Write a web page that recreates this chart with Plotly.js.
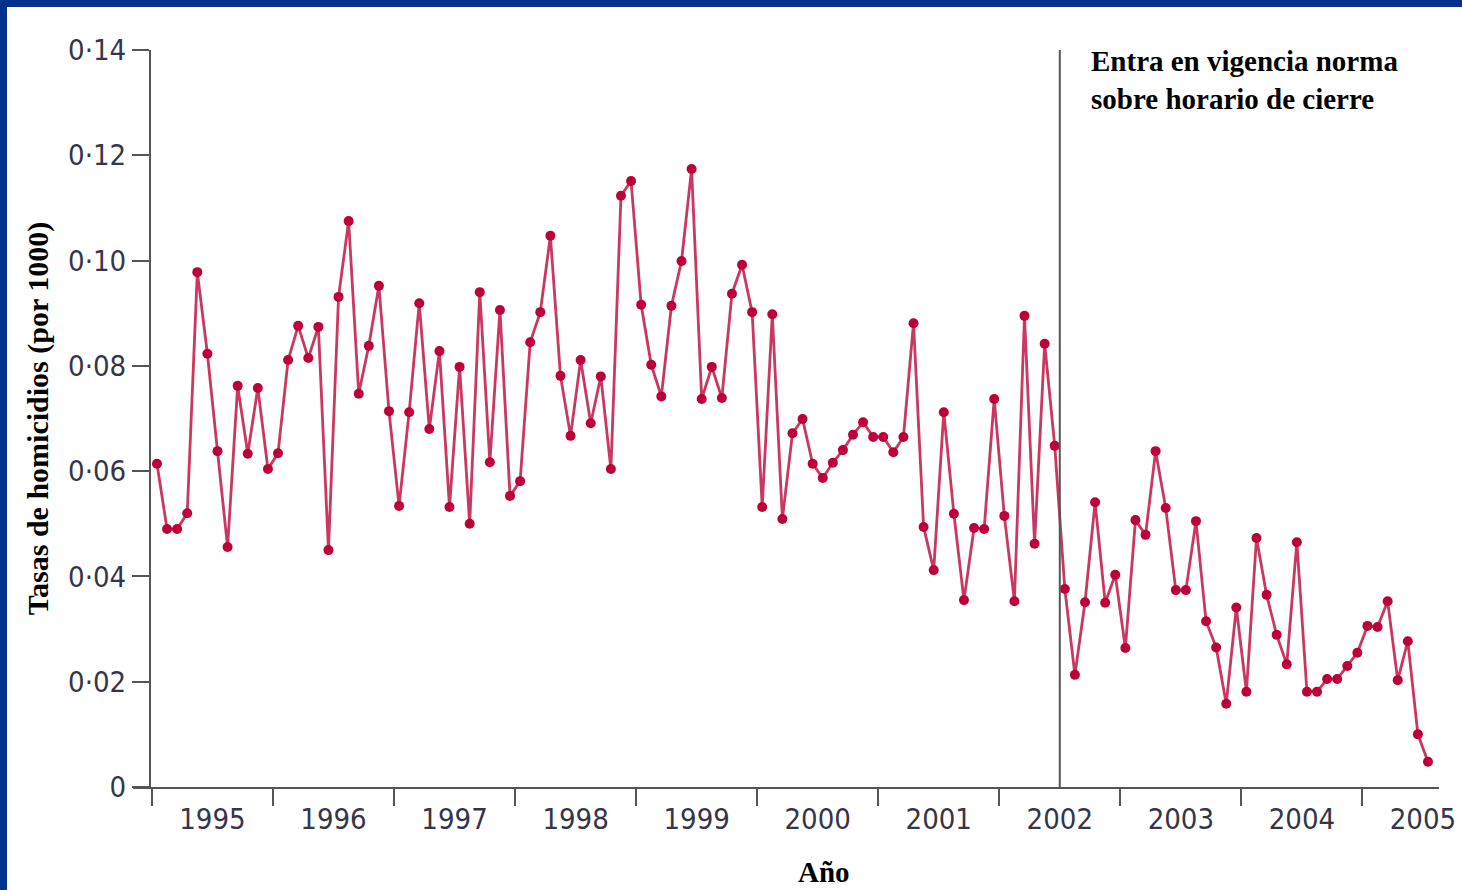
<!DOCTYPE html>
<html>
<head>
<meta charset="utf-8">
<script src="https://cdn.plot.ly/plotly-3.0.1.min.js"></script>
<style>
  html, body { margin: 0; padding: 0; background: #ffffff; }
  #chart { position: absolute; left: 0; top: 0; width: 1462px; height: 890px; }
  .frame-top { position: absolute; left: 0; top: 0; width: 1462px; height: 7px; background: #03308a; }
  .frame-left { position: absolute; left: 0; top: 0; width: 7px; height: 890px; background: #03308a; }
</style>
</head>
<body>
<div id="chart"></div>
<div class="frame-top"></div>
<div class="frame-left"></div>
<script>
// ---- Data (monthly homicide rates per 1000, Jan 1995 - Jul 2005) ----
const startYear = 1995;
const years = [1995, 1996, 1997, 1998, 1999, 2000, 2001, 2002, 2003, 2004, 2005];
const rates1995 = [0.0614, 0.0490, 0.0490, 0.0520, 0.0978, 0.0823, 0.0638, 0.0456, 0.0762, 0.0633, 0.0758, 0.0604];
const rates1996 = [0.0634, 0.0811, 0.0876, 0.0815, 0.0874, 0.0450, 0.0931, 0.1075, 0.0747, 0.0838, 0.0952, 0.0714];
const rates1997 = [0.0534, 0.0712, 0.0919, 0.0680, 0.0828, 0.0532, 0.0798, 0.0500, 0.0940, 0.0617, 0.0906, 0.0553];
const rates1998 = [0.0581, 0.0845, 0.0902, 0.1047, 0.0781, 0.0667, 0.0811, 0.0691, 0.0780, 0.0604, 0.1123, 0.1151];
const rates1999 = [0.0916, 0.0802, 0.0742, 0.0914, 0.0999, 0.1174, 0.0737, 0.0798, 0.0739, 0.0937, 0.0992, 0.0902];
const rates2000 = [0.0532, 0.0898, 0.0509, 0.0672, 0.0699, 0.0614, 0.0587, 0.0616, 0.0640, 0.0669, 0.0693, 0.0665];
const rates2001 = [0.0665, 0.0636, 0.0665, 0.0881, 0.0494, 0.0412, 0.0712, 0.0519, 0.0355, 0.0492, 0.0490, 0.0737];
const rates2002 = [0.0515, 0.0353, 0.0895, 0.0462, 0.0842, 0.0648, 0.0376, 0.0213, 0.0351, 0.0541, 0.0350, 0.0403];
const rates2003 = [0.0264, 0.0507, 0.0479, 0.0638, 0.0530, 0.0374, 0.0374, 0.0505, 0.0315, 0.0265, 0.0158, 0.0341];
const rates2004 = [0.0181, 0.0473, 0.0365, 0.0289, 0.0233, 0.0465, 0.0181, 0.0181, 0.0205, 0.0205, 0.0230, 0.0255];
const rates2005 = [0.0306, 0.0304, 0.0353, 0.0203, 0.0277, 0.0100, 0.0048];

const yTickVals = [0, 0.02, 0.04, 0.06, 0.08, 0.10, 0.12, 0.14];
const yTickText = ['0', '0·02', '0·04', '0·06', '0·08', '0·10', '0·12', '0·14'];
const lawYear = 2002, lawMonth = 7; // July 2002
const annotationText = 'Entra en vigencia norma<br>sobre horario de cierre';
const yTitle = 'Tasas de homicidios (por 1000)';
const xTitle = 'Año';

// ---- Build series ----
const rates = [].concat(rates1995, rates1996, rates1997, rates1998, rates1999, rates2000,
                        rates2001, rates2002, rates2003, rates2004, rates2005);
const xMonths = rates.map((_, i) => startYear + i / 12);
const halfMonth = 1 / 24;
const lawX = lawYear + (lawMonth - 1) / 12 - halfMonth;

const axisColor = '#555555';
const tickFont = { family: "'DejaVu Sans Condensed', 'Liberation Sans Narrow', Roboto, sans-serif", size: 29, color: '#35354a' };
const serifBold = { family: "'Liberation Serif', 'Times New Roman', serif", size: 29, color: '#000000' };
const xRange = [startYear - 0.198, years[years.length - 1] + 0.591];

const traces = [
  {
    type: 'scatter', mode: 'lines+markers',
    x: xMonths, y: rates,
    line: { color: '#c93860', width: 2.8 },
    marker: { color: '#be0039', size: 10 },
    showlegend: false, hoverinfo: 'x+y'
  },
  { type: 'scatter', x: [], y: [], xaxis: 'x2', yaxis: 'y', showlegend: false, hoverinfo: 'skip' }
];

const layout = {
  width: 1462, height: 890,
  margin: { l: 133, r: 23, t: 50, b: 103 },
  paper_bgcolor: '#ffffff', plot_bgcolor: '#ffffff',
  showlegend: false,
  xaxis: {
    range: xRange,
    tickmode: 'array', tickvals: years.map(y => y - halfMonth),
    showticklabels: false,
    ticks: 'outside', ticklen: 17, tickwidth: 2, tickcolor: axisColor,
    showline: true, linewidth: 2, linecolor: axisColor,
    showgrid: false, zeroline: false
  },
  xaxis2: {
    overlaying: 'x', side: 'bottom', anchor: 'y',
    range: xRange,
    tickmode: 'array', tickvals: years.map(y => y + 0.5 - halfMonth), ticktext: years.map(String),
    ticks: 'outside', ticklen: 6, tickcolor: 'rgba(0,0,0,0)',
    tickfont: tickFont,
    showline: false, showgrid: false, zeroline: false
  },
  yaxis: {
    range: [0, 0.14],
    anchor: 'free', position: 17 / 1306,
    tickmode: 'array', tickvals: yTickVals, ticktext: yTickText,
    tickfont: tickFont,
    ticks: 'outside', ticklen: 17, tickwidth: 2, tickcolor: axisColor,
    showline: true, linewidth: 2, linecolor: axisColor,
    showgrid: false, zeroline: false,
    title: { text: '<b>' + yTitle + '</b>', font: { family: serifBold.family, size: 30, color: '#000000' }, standoff: 10 }
  },
  shapes: [
    { type: 'line', xref: 'x', yref: 'paper', x0: lawX, x1: lawX, y0: 0, y1: 1,
      line: { color: axisColor, width: 2 } }
  ],
  annotations: [
    { xref: 'x', yref: 'paper', x: lawX, y: 1, xanchor: 'left', yanchor: 'top',
      xshift: 29, yshift: 7, align: 'left', showarrow: false,
      text: '<b>' + annotationText + '</b>', font: serifBold },
    { xref: 'paper', yref: 'paper', x: (824 - 133) / 1306, y: 0, xanchor: 'center', yanchor: 'middle',
      yshift: -85, showarrow: false, text: '<b>' + xTitle + '</b>', font: serifBold }
  ]
};

Plotly.newPlot('chart', traces, layout, { displayModeBar: false, staticPlot: true });
</script>
</body>
</html>
